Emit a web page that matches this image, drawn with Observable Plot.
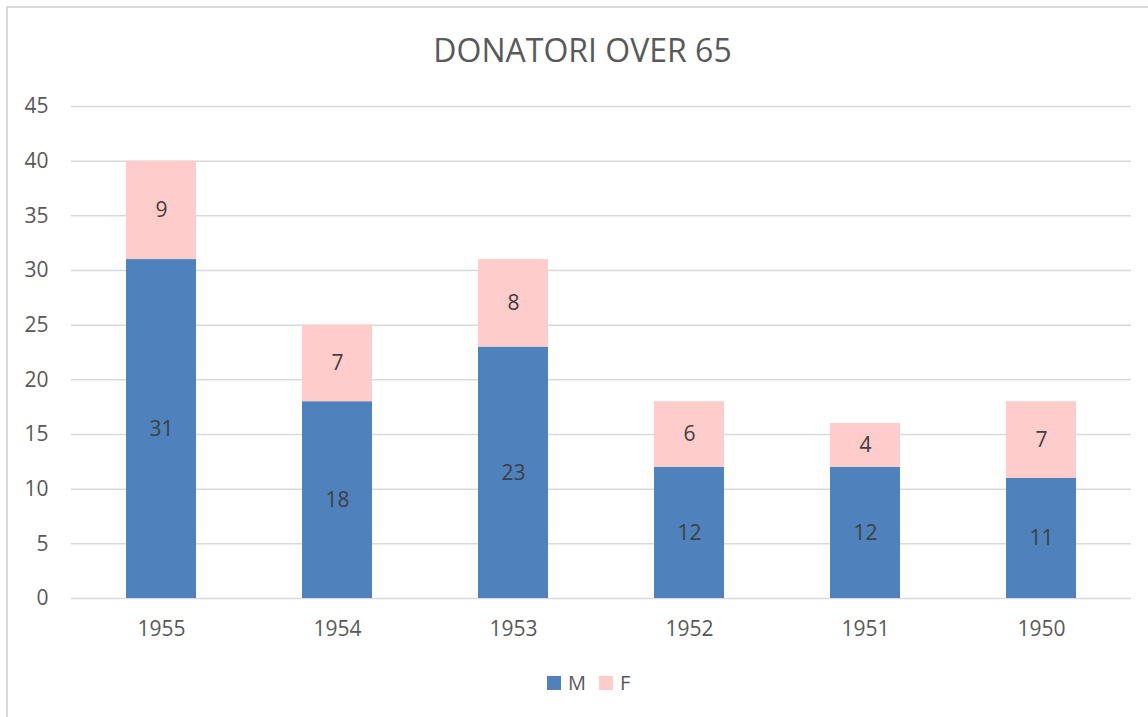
<!DOCTYPE html>
<html>
<head>
<meta charset="utf-8">
<script src="https://cdn.jsdelivr.net/npm/d3@7"></script>
<script src="https://cdn.jsdelivr.net/npm/@observablehq/plot@0.6"></script>
<style>
  html, body { margin: 0; padding: 0; background: #fff; }
  #wrap { position: relative; width: 1148px; height: 717px; overflow: hidden; font-family: "Open Sans", sans-serif; background: #fff; }
  #frame { position: absolute; left: 6px; top: 6px; width: 1200px; height: 800px; border-left: 2px solid #D9D9D9; border-top: 2px solid #D9D9D9; }
  #title { position: absolute; left: 0; width: 1148px; box-sizing: border-box; padding-left: 17px; top: 28px; text-align: center; font-size: 32px; color: #595959; line-height: 44px; }
  #chart { position: absolute; left: 0; top: 0; }
  #legend { position: absolute; left: 547px; top: 669px; display: flex; align-items: center; font-size: 20px; color: #595959; line-height: 28px; }
  .item { display: flex; align-items: center; margin-right: 13px; }
  .sw { width: 14px; height: 14px; margin-right: 7px; }
</style>
</head>
<body>
<div id="wrap">
  <div id="frame"></div>
  <div id="chart"></div>
  <div id="title">DONATORI OVER 65</div>
  <div id="legend"></div>
</div>
<script>
const years = ["1955", "1954", "1953", "1952", "1951", "1950"];
const seriesM = [31, 18, 23, 12, 12, 11];
const seriesF = [9, 7, 8, 6, 4, 7];
const seriesNames = ["M", "F"];
const seriesColors = ["#4F81BD", "#FFCCCC"];
const yTicks = [0, 5, 10, 15, 20, 25, 30, 35, 40, 45];

const data = [];
years.forEach((yr, i) => data.push({year: yr, sex: "M", value: seriesM[i]}));
years.forEach((yr, i) => data.push({year: yr, sex: "F", value: seriesF[i]}));

const plot = Plot.plot({
  width: 1148,
  height: 650,
  marginLeft: 71,
  marginRight: 17,
  marginTop: 106,
  marginBottom: 52,
  style: {fontFamily: "'Open Sans', sans-serif", fontSize: "21px", color: "#595959", background: "transparent"},
  x: {domain: years, paddingInner: 0.6, paddingOuter: 0.3, label: null},
  y: {domain: [0, 45], ticks: yTicks, label: null},
  color: {domain: seriesNames, range: seriesColors},
  marks: [
    Plot.gridY(yTicks, {stroke: "#D9D9D9", strokeOpacity: 1, strokeWidth: 1.5}),
    Plot.barY(data, Plot.stackY({x: "year", y: "value", z: "sex", fill: "sex", order: seriesNames})),
    Plot.text(data, Plot.stackY({x: "year", y: "value", z: "sex", text: d => String(d.value), order: seriesNames, fill: "#404040", fontSize: 21})),
    Plot.axisX({tickSize: 0, tickPadding: 23, fontSize: 21, fill: "#595959"}),
    Plot.axisY({ticks: yTicks, tickSize: 0, tickPadding: 23, fontSize: 21, fill: "#595959"})
  ]
});
document.getElementById("chart").appendChild(plot);

const legend = document.getElementById("legend");
seriesNames.forEach((n, i) => {
  const it = document.createElement("div");
  it.className = "item";
  const sw = document.createElement("div");
  sw.className = "sw";
  sw.style.background = seriesColors[i];
  const lb = document.createElement("span");
  lb.textContent = n;
  it.appendChild(sw);
  it.appendChild(lb);
  legend.appendChild(it);
});
</script>
</body>
</html>
